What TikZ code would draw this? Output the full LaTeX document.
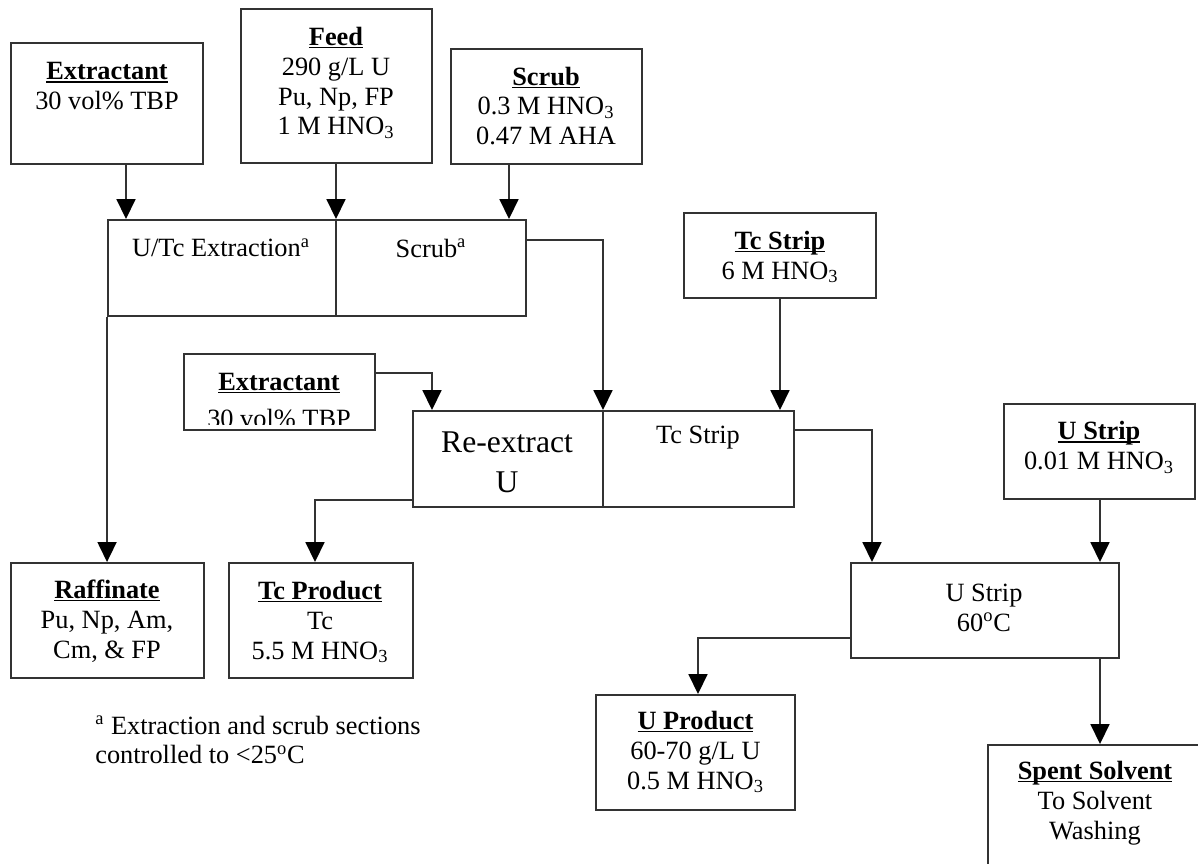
\documentclass[tikz,border=0pt]{standalone}
\usepackage{fontspec}
\setmainfont{Liberation Serif}
\usetikzlibrary{arrows.meta,fit,calc}
\newcommand{\ttl}[1]{\setbox0\hbox{\textbf{#1}}\rlap{\rule[-1.7pt]{\wd0}{0.75pt}}\box0}
\begin{document}
\begin{tikzpicture}[x=0.02cm,y=-0.02cm,
  box/.style={draw=black!80,line width=1.1pt,inner sep=0pt},
  txt/.style={align=center,inner sep=0pt,font=\fontsize{15}{17}\selectfont},
  arr/.style={draw=black!80,line width=1pt,-{Triangle[length=0.4cm,width=0.38cm,color=black]}},
  ln/.style={draw=black!80,line width=1.1pt}]
\useasboundingbox (0,0) rectangle (1198,863);
\clip (0,0) rectangle (1198,863);

% helper coordinates
\coordinate (X126) at (126,0);
\coordinate (X336) at (336,0);
\coordinate (X509) at (509,0);
\coordinate (X603) at (603,0);
\coordinate (X432) at (432,0);
\coordinate (X872) at (872,0);
\coordinate (X315) at (315,0);
\coordinate (X698) at (698,0);
\coordinate (X1100) at (1100,0);
\coordinate (Y240) at (0,240);
\coordinate (Y373) at (0,373);
\coordinate (Y430) at (0,430);
\coordinate (Y500) at (0,500);
\coordinate (Y638) at (0,638);

% boxes
\node[box,fit={(11,43)(203,164)}] (ext1) {};
\node[box,fit={(241,9)(432,163)}] (feed) {};
\node[box,fit={(451,49)(642,164)}] (scrubf) {};
\node[box,fit={(108,220)(526,316)}] (extr) {};
\node[box,fit={(184,354)(375,430)}] (ext2) {};
\node[box,fit={(413,411)(794,507)}] (reex) {};
\node[box,fit={(684,213)(876,298)}] (tcsf) {};
\node[box,fit={(1004,404)(1195,499)}] (usf) {};
\node[box,fit={(851,563)(1119,658)}] (ustr) {};
\node[box,fit={(11,563)(204,678)}] (raff) {};
\node[box,fit={(229,563)(413,678)}] (tcp) {};
\node[box,fit={(596,695)(795,810)}] (uprod) {};
\node[box,fit={(988,745)(1230,890)}] (spent) {};

% dividers
\draw[ln] (X336 |- extr.north) -- (X336 |- extr.south);
\draw[ln] (X603 |- reex.north) -- (X603 |- reex.south);

% texts
\node[txt] (ext1t) at (107,86) {\ttl{Extractant}\\30 vol\% TBP};
\node[txt] (feedt) at (336,83) {\ttl{Feed}\\290 g/L U\\Pu, Np, FP\\1 M HNO\textsubscript{3}};
\node[txt] (scrubt) at (546,106) {\ttl{Scrub}\\0.3 M HNO\textsubscript{3}\\0.47 M AHA};
\node[txt] (extrt) at (221,248) {U/Tc Extraction\textsuperscript{a}};
\node[txt] (scrt) at (431,248) {Scrub\textsuperscript{a}};
\node[txt,anchor=base] (ext2a) at (279,390) {\ttl{Extractant}};
\begin{scope}
  \clip (185,354) rectangle (374,424);
  \node[txt,anchor=base] (ext2b) at (279,427) {30 vol\% TBP};
\end{scope}
\node[txt,font=\fontsize{18}{22.7}\selectfont] (reext) at (507,462) {Re-extract\\U};
\node[txt] (tcstript) at (698,438) {Tc Strip};
\node[txt] (tcsft) at (780,257) {\ttl{Tc Strip}\\6 M HNO\textsubscript{3}};
\node[txt] (usft) at (1099,447.5) {\ttl{U Strip}\\0.01 M HNO\textsubscript{3}};
\node[txt] (ustrt) at (984,607.5) {U Strip\\60\textsuperscript{o}C};
\node[txt] (rafft) at (107,621) {\ttl{Raffinate}\\Pu, Np, Am,\\Cm, \& FP};
\node[txt] (tcpt) at (320,622) {\ttl{Tc Product}\\Tc\\5.5 M HNO\textsubscript{3}};
\node[txt] (uprodt) at (695.5,752) {\ttl{U Product}\\60-70 g/L U\\0.5 M HNO\textsubscript{3}};
\node[txt] (spentt) at (1095,803) {\ttl{Spent Solvent}\\To Solvent\\Washing};
\node[txt,align=left,anchor=west] (note) at (95,740) {\textsuperscript{a} Extraction and scrub sections\\controlled to <25\textsuperscript{o}C};

% connectors
\draw[arr] (X126 |- ext1.south) -- (X126 |- extr.north);
\draw[arr] (X336 |- feed.south) -- (X336 |- extr.north);
\draw[arr] (X509 |- scrubf.south) -- (X509 |- extr.north);
\draw[arr] (extr.east |- Y240) -- (X603 |- Y240) -- (X603 |- reex.north);
\draw[arr] (ext2.east |- Y373) -- (X432 |- Y373) -- (X432 |- reex.north);
\draw[arr] (tcsf.south) -- (tcsf.south |- reex.north);
\draw[arr] (reex.east |- Y430) -- (X872 |- Y430) -- (X872 |- ustr.north);
\draw[arr] (X1100 |- usf.south) -- (X1100 |- ustr.north);
\draw[arr] (extr.south west) -- (extr.south west |- raff.north);
\draw[arr] (reex.west |- Y500) -- (X315 |- Y500) -- (X315 |- tcp.north);
\draw[arr] (ustr.west |- Y638) -- (X698 |- Y638) -- (X698 |- uprod.north);
\draw[arr] (X1100 |- ustr.south) -- (X1100 |- spent.north);
\end{tikzpicture}
\end{document}
